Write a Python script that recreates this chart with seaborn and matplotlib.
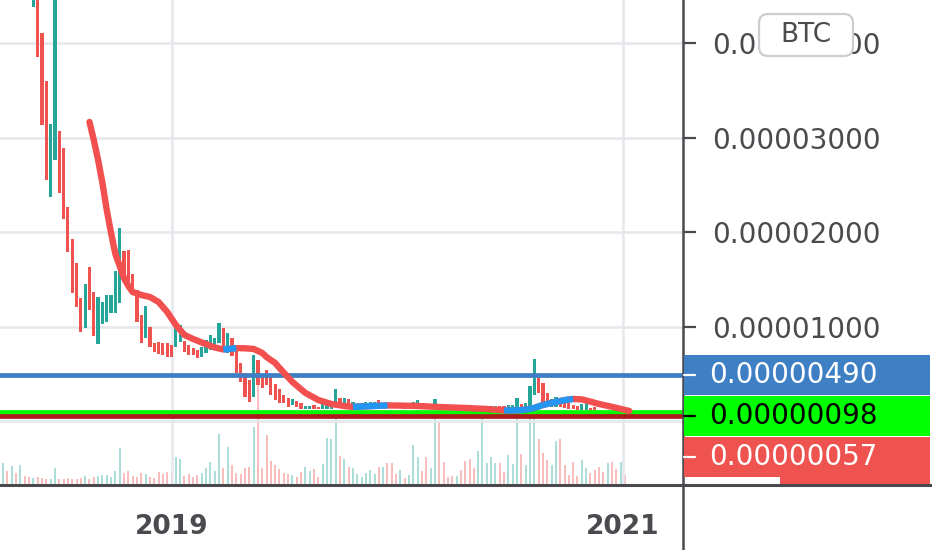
import numpy as np
import pandas as pd
import matplotlib
matplotlib.use("Agg")
import matplotlib.pyplot as plt
import matplotlib.dates as mdates
from matplotlib.patches import Rectangle, FancyBboxPatch
from matplotlib.lines import Line2D
from matplotlib.transforms import IdentityTransform
import seaborn as sns

# ── data (prices in satoshi, 1 sat = 0.00000001 BTC), weekly candles ──────────
first_week = "2018-04-02"
highs = [6200, 6000, 5900, 5800, 5900, 5600, 5200,
         4700, 4520, 4110, 3602, 3148, 4650, 3073, 2894, 2269, 1931,
         1677, 1307, 1455, 1635, 1370, 1317, 1264, 1338, 1338, 1592,
         2047, 1804, 1814, 1561, 1391, 1127, 1222, 1000, 831, 841,
         831, 831, 809, 1021, 1021, 852, 809, 778, 756, 788,
         862, 915, 883, 1042, 989, 936, 883, 756, 619, 513,
         439, 704, 651, 492, 545, 471, 397, 344, 280, 249,
         238, 217, 196, 164, 164, 175, 153, 185, 196, 206,
         344, 249, 249, 238, 206, 196, 196, 206, 206, 206,
         227, 196, 196, 185, 175, 185, 175, 196, 206, 227,
         196, 175, 185, 238, 175, 164, 150, 145, 145, 140,
         140, 135, 135, 145, 150, 150, 164, 164, 164, 160,
         175, 170, 249, 185, 196, 376, 661, 471, 407, 302,
         238, 259, 227, 206, 196, 175, 164, 185, 196, 143,
         153, 115, 110, 110, 105, 100, 100, 98]
lows = [5100, 5000, 4950, 4900, 4800, 4700, 4600,
        4385, 3857, 3137, 2555, 2375, 2767, 2418, 2142, 1793, 1359,
        1211, 947, 989, 1180, 905, 820, 1032, 1053, 1148, 1148,
        1254, 1476, 1412, 1338, 1053, 831, 883, 788, 735, 714,
        704, 682, 682, 788, 841, 735, 704, 704, 672, 682,
        725, 756, 778, 831, 756, 725, 693, 513, 418, 259,
        206, 259, 386, 354, 386, 280, 227, 196, 196, 153,
        175, 153, 132, 132, 132, 132, 132, 132, 132, 132,
        153, 153, 175, 153, 153, 153, 153, 153, 153, 153,
        153, 153, 143, 143, 143, 143, 132, 153, 153, 153,
        143, 143, 153, 153, 132, 132, 125, 120, 120, 115,
        115, 112, 110, 115, 115, 118, 130, 143, 130, 125,
        122, 125, 143, 143, 130, 153, 280, 302, 196, 175,
        153, 153, 153, 143, 132, 132, 122, 122, 122, 111,
        122, 90, 85, 80, 70, 65, 60, 57]
up = [1, 0, 1, 0, 1, 0, 0,
      1, 0, 0, 0, 1, 1, 0, 0, 0, 0,
      0, 0, 1, 0, 0, 1, 1, 1, 1, 1,
      1, 0, 0, 0, 0, 0, 1, 0, 0, 0,
      0, 0, 0, 1, 1, 0, 0, 0, 0, 1,
      1, 1, 1, 1, 0, 1, 0, 0, 0, 0,
      0, 1, 0, 0, 0, 0, 0, 0, 0, 0,
      1, 0, 0, 1, 1, 0, 0, 1, 1, 1,
      1, 0, 1, 0, 1, 1, 1, 1, 1, 1,
      0, 1, 0, 0, 0, 1, 0, 1, 1, 1,
      0, 0, 1, 1, 0, 0, 0, 0, 1, 0,
      0, 0, 0, 1, 1, 1, 1, 1, 0, 0,
      1, 1, 1, 0, 1, 1, 1, 0, 0, 0,
      1, 1, 0, 0, 0, 0, 0, 1, 1, 0,
      0, 0, 0, 1, 0, 0, 1, 0]
volume = [21, 13, 18, 11, 19, 8, 7, 6, 7, 6,
          5, 5, 16, 5, 5, 6, 5, 5, 6, 8,
          5, 7, 8, 9, 9, 7, 13, 36, 11, 13,
          8, 7, 11, 10, 7, 6, 12, 10, 12, 11,
          27, 25, 8, 10, 7, 9, 11, 16, 22, 13,
          50, 16, 37, 19, 11, 10, 16, 17, 57, 99,
          16, 49, 23, 19, 15, 11, 10, 9, 7, 12,
          17, 13, 15, 7,
          20, 46, 45, 70, 28, 25, 17, 16, 10, 7,
          11, 14, 10, 17, 17, 21, 21, 10, 14, 6,
          9, 39, 27, 13, 27, 16, 70, 62, 22, 7,
          8, 8, 14, 23, 25, 16, 33, 70, 21, 27,
          21, 21, 12, 29, 20, 70, 30, 19, 70, 70,
          45, 31, 24, 19, 43, 45, 19, 9, 22, 8,
          24, 16, 11, 14, 17, 12, 21, 22, 15, 22,
          9]

# smoothed average line (week number from first_week, value in sat)
ma_week = [20, 21, 22, 23, 24, 25, 26, 27, 28, 29, 30, 32, 34, 36, 38, 40, 42, 44,
           46, 48, 49, 51, 54, 56, 58, 60, 61, 63, 64, 67, 70, 73, 76, 79, 81, 84,
           87, 89, 92, 96, 101, 107, 112, 116, 119, 121, 123, 125, 127, 129, 131,
           132, 134, 136, 138, 141, 144, 145]
ma_sat = [3169, 2978, 2767, 2523, 2238, 1994, 1772, 1645, 1518, 1434, 1370, 1338,
          1317, 1264, 1159, 1021, 915, 873, 836, 800, 783, 762, 776, 774, 768, 725,
          682, 619, 566, 418, 302, 227, 185, 164, 153, 160, 166, 170, 168, 164, 153,
          143, 132, 116, 118, 125, 143, 175, 196, 217, 233, 238, 234, 210, 185, 155,
          122, 111]

levels = [490, 98, 57]
level_line_colors = ["#3d7ec4", "#00ff00", "#ad1c1c"]
level_box_colors = ["#3f80c5", "#00ff00", "#ef5350"]
level_text_colors = ["white", "black", "white"]

price_ticks = [1000, 2000, 3000, 4000]
year_ticks = ["2019-01-01", "2021-01-01"]
year_labels = ["2019", "2021"]

TEAL = "#26a69a"
RED = "#ef5350"
MA_RED = "#f24f4f"
MA_BLUE = "#2196f3"
GRID = "#e4e7ec"
AXIS = "#4a4a4e"
TXT = "#4a4a4f"
SAT = 1e-8

sns.set_theme(style="white")
plt.rcParams['font.family'] = ['DejaVu Sans']

fig = plt.figure(figsize=(9.32, 5.5), dpi=100, facecolor="white")
ax = fig.add_axes([0, 65 / 550, 683 / 932, 485 / 550])
axv = ax.twinx()
ax.set_zorder(axv.get_zorder() + 1)
ax.patch.set_visible(False)

start = pd.Timestamp(first_week)
weeks = start + pd.to_timedelta(np.arange(len(highs)) * 7, unit="D")
x = mdates.date2num(weeks)
hi = np.array(highs) * SAT
lo = np.array(lows) * SAT
colors = np.where(np.array(up) == 1, TEAL, RED)

# volume behind everything
axv.vlines(x, 0, volume, colors=colors, alpha=0.45, lw=1.2)
axv.set_ylim(-1, 484)
axv.set_yticks([])
for s in axv.spines.values():
    s.set_visible(False)

# candles
ax.bar(x, hi - lo, bottom=lo, width=5.2, color=colors, lw=0, zorder=3)

# price levels
for v, c in zip(levels, level_line_colors):
    ax.axhline(v * SAT, color=c, lw=3.4, zorder=4)

# smoothed line, blue while rising
ma_x = mdates.date2num(start + pd.to_timedelta(np.array(ma_week) * 7, unit="D"))
ma_y = np.array(ma_sat) * SAT
sns.lineplot(x=ma_x, y=ma_y, ax=ax, color=MA_RED, lw=4.6, zorder=5,
             solid_capstyle="round", sort=False)
for k in range(len(ma_x) - 1):
    if ma_y[k + 1] > ma_y[k]:
        ax.plot(ma_x[k:k + 2], ma_y[k:k + 2], color=MA_BLUE, lw=4.6, zorder=6,
                solid_capstyle="butt")

ax.set_xlim(mdates.date2num(pd.Timestamp("2018-03-28")),
            mdates.date2num(pd.Timestamp("2021-04-08")))
ax.set_ylim(-672 * SAT, 4459 * SAT)

ax.axhline(0, color=GRID, lw=1.8, zorder=0)
ax.grid(True, color=GRID, lw=1.8)
ax.set_axisbelow(True)

ax.yaxis.tick_right()
ax.set_yticks([t * SAT for t in price_ticks])
ax.set_yticklabels([f"{t * SAT:.8f}" for t in price_ticks])
ax.tick_params(axis="y", length=9, width=1.6, color=AXIS, pad=12,
               labelsize=20, labelcolor=TXT)
ax.set_xticks(mdates.date2num(pd.to_datetime(year_ticks)))
ax.set_xticklabels(year_labels, fontweight="bold")
ax.tick_params(axis="x", length=7, width=2, color=AXIS, pad=14,
               labelsize=19, labelcolor=TXT)
for s in ax.spines.values():
    s.set_visible(False)

# axis lines across the whole figure
fig.add_artist(Line2D([0, 1], [65 / 550, 65 / 550], color=AXIS, lw=2.2,
                      transform=fig.transFigure, zorder=8))
fig.add_artist(Line2D([683 / 932, 683 / 932], [0, 1], color=AXIS, lw=1.8,
                      transform=fig.transFigure, zorder=8))

# price label boxes on the scale, first one centred on its line
ident = IdentityTransform()
fig.canvas.draw()
yc = ax.transData.transform((0, levels[0] * SAT))[1]
box_h = 40
top = yc + box_h / 2
for v, bc, tc in zip(levels, level_box_colors, level_text_colors):
    fig.add_artist(Rectangle((684, top - box_h), 246, box_h, facecolor=bc,
                             edgecolor="none", transform=ident, zorder=9))
    mid = top - box_h / 2
    fig.add_artist(Line2D([684, 695], [mid, mid], color=tc, lw=1.6,
                          transform=ident, zorder=10))
    fig.text(709, mid, f"{v * SAT:.8f}", color=tc, fontsize=20, va="center",
             ha="left", transform=ident, zorder=10)
    top -= box_h + 1
fig.add_artist(Rectangle((780, 66), 150, 7, facecolor=RED, edgecolor="none",
                         transform=ident, zorder=9))

# currency badge, drawn over the top price label
fig.add_artist(FancyBboxPatch((759, 550 - 56), 94, 42,
                              boxstyle="round,pad=0,rounding_size=9",
                              facecolor="white", edgecolor="#cdcdd2", lw=1.6,
                              transform=ident, zorder=11))
fig.text(806, 550 - 35, "BTC", color=TXT, fontsize=19, ha="center", va="center",
         transform=ident, zorder=12)

fig.savefig("out.png", dpi=100, facecolor="white")
